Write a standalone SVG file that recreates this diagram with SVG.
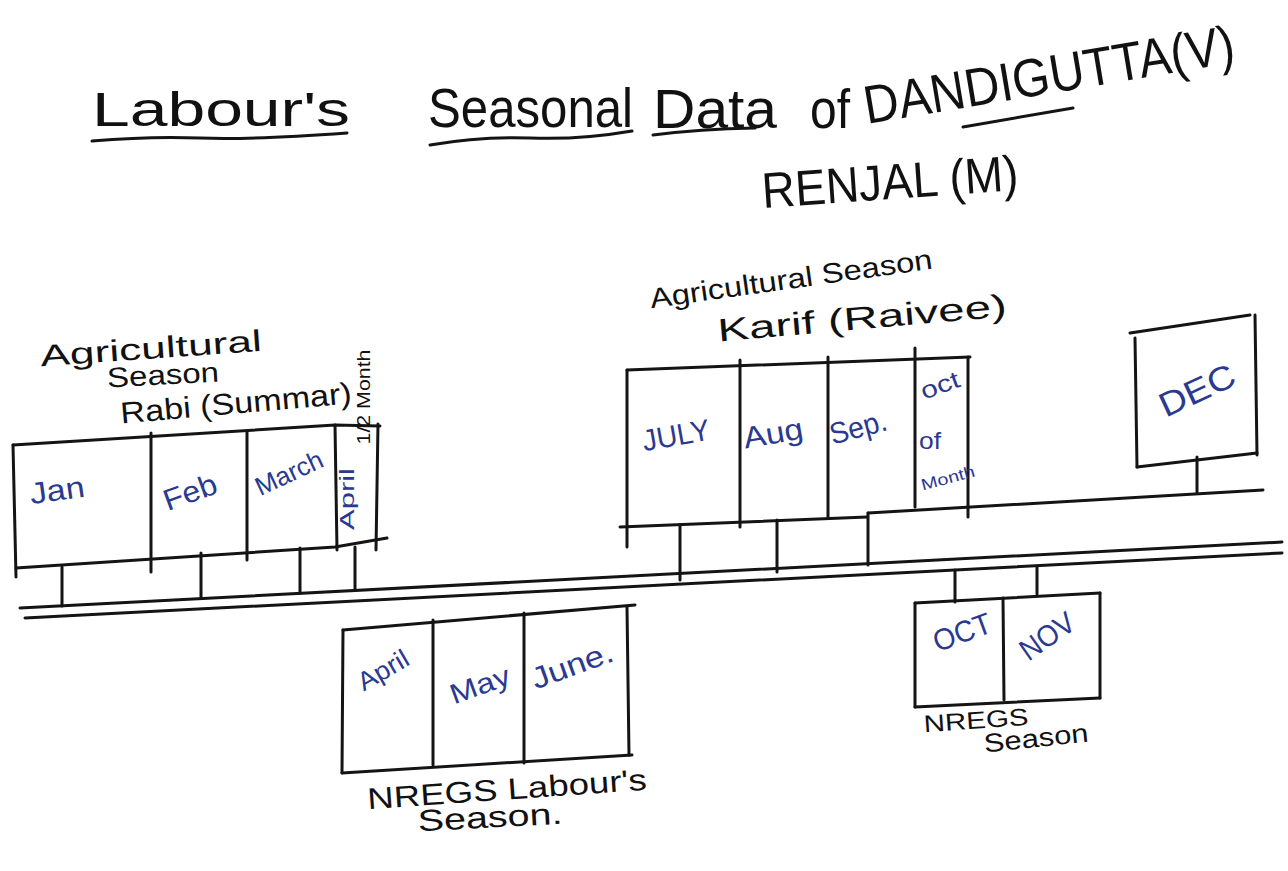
<svg xmlns="http://www.w3.org/2000/svg" width="1288" height="871" viewBox="0 0 1288 871">
<style>
.ln{stroke:#141414;stroke-width:3;fill:none;stroke-linecap:round;stroke-linejoin:round}
.tl{font-family:"Liberation Sans","DejaVu Sans",sans-serif;fill:#111;text-anchor:start}
.hd{font-family:"Liberation Sans","DejaVu Sans",sans-serif;fill:#111;text-anchor:middle;dominant-baseline:central}
.mo{font-family:"Liberation Sans","DejaVu Sans",sans-serif;fill:#2b3990;text-anchor:middle;dominant-baseline:central}
</style>
<rect x="0" y="0" width="1288" height="871" fill="#ffffff"/>

<g id="title">
<text class="tl" x="92" y="126" font-size="48" textLength="258" lengthAdjust="spacingAndGlyphs">Labour's</text>
<text class="tl" x="428" y="127" font-size="56" textLength="205" lengthAdjust="spacingAndGlyphs">Seasonal</text>
<text class="tl" x="653" y="128" font-size="56" textLength="124" lengthAdjust="spacingAndGlyphs">Data</text>
<text class="tl" x="810" y="128" font-size="56" textLength="40" lengthAdjust="spacingAndGlyphs">of</text>
<text class="tl" x="867" y="124" font-size="54" textLength="375" lengthAdjust="spacingAndGlyphs" transform="rotate(-9.5 867 124)">DANDIGUTTA(V)</text>
<text class="tl" x="763" y="208" font-size="50" textLength="257" lengthAdjust="spacingAndGlyphs" transform="rotate(-4 763 208)">RENJAL (M)</text>
<path class="ln" d="M92 141 Q150 136 200 138 T347 133"/>
<path class="ln" d="M430 145 Q480 136 530 138 T632 131"/>
<path class="ln" d="M653 135 Q700 129 755 128"/>
<path class="ln" d="M963 127 L1073 108"/>
</g>

<g id="rabi">
<text class="hd" font-size="30" x="151" y="348" textLength="222" lengthAdjust="spacingAndGlyphs" transform="rotate(-4 151 348)">Agricultural</text>
<text class="hd" font-size="28" x="163" y="375" textLength="112" lengthAdjust="spacingAndGlyphs" transform="rotate(-3 163 375)">Season</text>
<text class="hd" font-size="30" x="236" y="403" textLength="232" lengthAdjust="spacingAndGlyphs" transform="rotate(-5 236 403)">Rabi (Summar)</text>
<path class="ln" d="M13 445 L335 425 L380 426"/>
<path class="ln" d="M13 445 L16 577"/>
<path class="ln" d="M16 568 L335 547 L387 538"/>
<path class="ln" d="M151 433 L151 572"/>
<path class="ln" d="M247 432 L247 560"/>
<path class="ln" d="M335 425 L337 550"/>
<path class="ln" d="M378 424 L376 550"/>
<text class="mo" font-size="30" x="57" y="490" textLength="55" lengthAdjust="spacingAndGlyphs" transform="rotate(-8 57 490)">Jan</text>
<text class="mo" font-size="30" x="190" y="492" textLength="55" lengthAdjust="spacingAndGlyphs" transform="rotate(-20 190 492)">Feb</text>
<text class="mo" font-size="26" x="289" y="473" textLength="72" lengthAdjust="spacingAndGlyphs" transform="rotate(-25 289 473)">March</text>
<text class="mo" font-size="20" x="347" y="499" textLength="62" lengthAdjust="spacingAndGlyphs" transform="rotate(-90 347 499)">April</text>
<text class="hd" font-size="18" x="364" y="397" textLength="95" lengthAdjust="spacingAndGlyphs" transform="rotate(-90 364 397)">1/2 Month</text>
</g>

<g id="karif">
<text class="hd" font-size="28" x="791" y="279" textLength="285" lengthAdjust="spacingAndGlyphs" transform="rotate(-8 791 279)">Agricultural Season</text>
<text class="hd" font-size="32" x="862" y="318" textLength="290" lengthAdjust="spacingAndGlyphs" transform="rotate(-5 862 318)">Karif (Raivee)</text>
<path class="ln" d="M627 370 L970 357"/>
<path class="ln" d="M627 370 L627 547"/>
<path class="ln" d="M620 527 L867 517"/>
<path class="ln" d="M740 360 L740 527"/>
<path class="ln" d="M828 357 L828 518"/>
<path class="ln" d="M915 348 L915 507"/>
<path class="ln" d="M968 357 L968 517"/>
<text class="mo" font-size="30" x="676" y="435" textLength="68" lengthAdjust="spacingAndGlyphs" transform="rotate(-10 676 435)">JULY</text>
<text class="mo" font-size="30" x="773" y="433" textLength="60" lengthAdjust="spacingAndGlyphs" transform="rotate(-10 773 433)">Aug</text>
<text class="mo" font-size="30" x="858" y="427" textLength="58" lengthAdjust="spacingAndGlyphs" transform="rotate(-15 858 427)">Sep.</text>
<text class="mo" font-size="24" x="940" y="385" textLength="40" lengthAdjust="spacingAndGlyphs" transform="rotate(-20 940 385)">oct</text>
<text class="mo" font-size="24" x="930" y="440" textLength="22" lengthAdjust="spacingAndGlyphs">of</text>
<text class="mo" font-size="16" x="948" y="478" textLength="55" lengthAdjust="spacingAndGlyphs" transform="rotate(-15 948 478)">Month</text>
</g>

<g id="dec">
<path class="ln" d="M1130 333 L1250 315"/>
<path class="ln" d="M1135 338 L1137 467"/>
<path class="ln" d="M1255 315 L1257 455"/>
<path class="ln" d="M1137 467 L1257 453"/>
<text class="mo" font-size="34" x="1197" y="390" textLength="80" lengthAdjust="spacingAndGlyphs" transform="rotate(-25 1197 390)">DEC</text>
</g>

<g id="nregs-apr-jun">
<path class="ln" d="M343 630 L635 605"/>
<path class="ln" d="M343 630 L342 773"/>
<path class="ln" d="M342 773 L632 755"/>
<path class="ln" d="M433 620 L433 765"/>
<path class="ln" d="M524 613 L524 763"/>
<path class="ln" d="M627 607 L629 755"/>
<text class="mo" font-size="26" x="383" y="670" textLength="55" lengthAdjust="spacingAndGlyphs" transform="rotate(-30 383 670)">April</text>
<text class="mo" font-size="28" x="480" y="685" textLength="62" lengthAdjust="spacingAndGlyphs" transform="rotate(-20 480 685)">May</text>
<text class="mo" font-size="30" x="572" y="665" textLength="85" lengthAdjust="spacingAndGlyphs" transform="rotate(-20 572 665)">June.</text>
<text class="hd" font-size="30" x="507" y="789" textLength="280" lengthAdjust="spacingAndGlyphs" transform="rotate(-4 507 789)">NREGS Labour's</text>
<text class="hd" font-size="30" x="490" y="817" textLength="145" lengthAdjust="spacingAndGlyphs" transform="rotate(-3 490 817)">Season.</text>
</g>

<g id="nregs-oct-nov">
<path class="ln" d="M915 603 L1100 593"/>
<path class="ln" d="M915 603 L915 707"/>
<path class="ln" d="M1100 593 L1100 698"/>
<path class="ln" d="M915 707 L1100 698"/>
<path class="ln" d="M1003 598 L1004 700"/>
<text class="mo" font-size="30" x="962" y="632" textLength="60" lengthAdjust="spacingAndGlyphs" transform="rotate(-20 962 632)">OCT</text>
<text class="mo" font-size="30" x="1047" y="636" textLength="60" lengthAdjust="spacingAndGlyphs" transform="rotate(-35 1047 636)">NOV</text>
<text class="hd" font-size="24" x="976" y="720" textLength="105" lengthAdjust="spacingAndGlyphs" transform="rotate(-4 976 720)">NREGS</text>
<text class="hd" font-size="26" x="1036" y="738" textLength="105" lengthAdjust="spacingAndGlyphs" transform="rotate(-6 1036 738)">Season</text>
</g>

<g id="connectors">
<path class="ln" d="M20 608 L1282 542"/>
<path class="ln" d="M25 618 L1282 553"/>
<path class="ln" d="M62 567 L62 606"/>
<path class="ln" d="M201 553 L201 598"/>
<path class="ln" d="M300 548 L300 593"/>
<path class="ln" d="M355 547 L355 590"/>
<path class="ln" d="M680 525 L680 580"/>
<path class="ln" d="M777 520 L777 572"/>
<path class="ln" d="M868 513 L868 565"/>
<path class="ln" d="M868 513 L1263 490"/>
<path class="ln" d="M1197 457 L1197 492"/>
<path class="ln" d="M955 570 L955 602"/>
<path class="ln" d="M1037 567 L1037 594"/>
</g>
</svg>
